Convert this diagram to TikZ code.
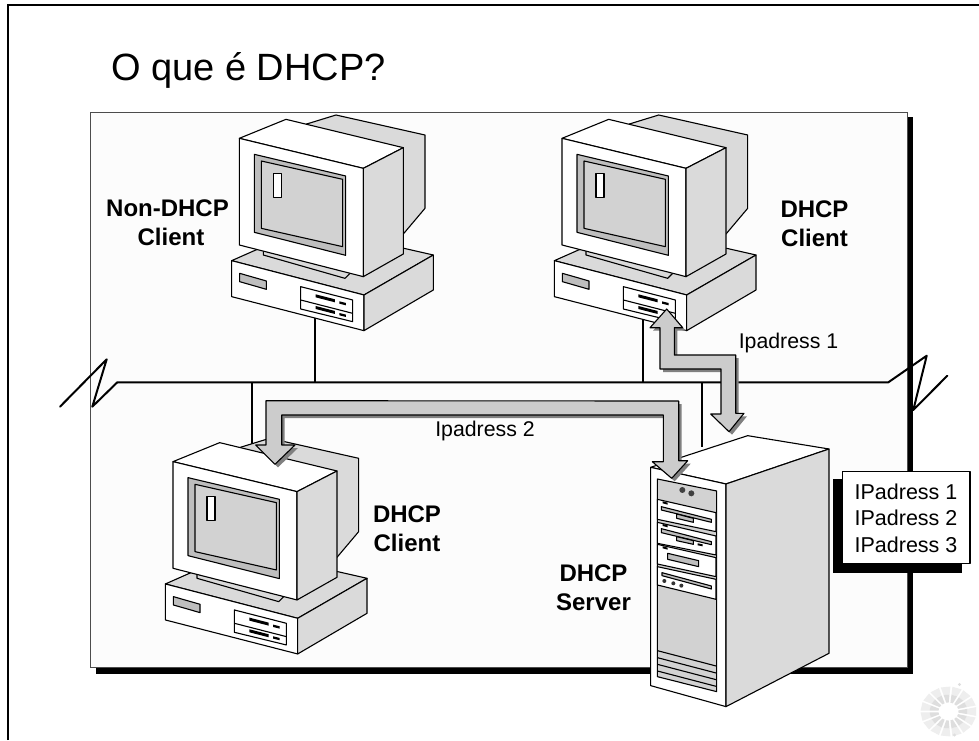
\documentclass[tikz,border=0pt]{standalone}
\usepackage{fontspec}
\setmainfont{Liberation Sans}
\definecolor{panelfill}{HTML}{FCFCFC}
\definecolor{sidegray}{HTML}{DADADA}
\definecolor{bezelgray}{HTML}{BEBEBE}
\definecolor{screengray}{HTML}{D2D2D2}
\definecolor{arrowgray}{HTML}{CCCCCC}
\definecolor{shadowgray}{HTML}{808080}
\definecolor{logogray}{HTML}{DEDEDE}
\definecolor{logolight}{HTML}{EEEEEE}
\tikzset{
  outline/.style={draw=black,line width=1.1pt,line join=round},
  lite/.style={outline,fill=white},
  side/.style={outline,fill=sidegray},
  bar/.style={fill=black,draw=none},
  wire/.style={draw=black,line width=2pt},
  wireround/.style={draw=black,line width=2pt,line join=round,line cap=round},
  bigarrow/.style={outline,fill=arrowgray},
  arrowshadow/.style={fill=shadowgray,draw=none},
  boldlabel/.style={font=\fontsize{24}{29}\selectfont\bfseries,align=center,inner sep=0pt},
  plainlabel/.style={font=\fontsize{21.3}{25}\selectfont,inner sep=0pt},
  iplist/.style={font=\fontsize{21.5}{26.6}\selectfont,align=center,inner sep=0pt}
}
\newcommand{\drawcomputer}[2]{%
\begin{scope}[shift={(#1,#2)},x=0.3333pt,y=-0.3333pt]
  % base
  \path[side] (95,482) -- (190,440) -- (612,445) -- (700,465) -- (492,585) -- cycle;
  \path[lite] (95,482) -- (492,585) -- (492,692) -- (95,590) -- cycle;
  \path[side] (492,585) -- (700,465) -- (700,570) -- (492,692) -- cycle;
  \path[outline,fill=bezelgray] (119,520) -- (199,543) -- (199,568) -- (119,545) -- cycle;
  \path[lite] (302,560) -- (458,600) -- (458,665) -- (302,627) -- cycle;
  \path[outline] (302,600) -- (458,640);
  \path[bar] (347,583) -- (405,598) -- (405,607) -- (347,592) -- cycle;
  \path[bar] (418,604) -- (438,609) -- (438,616) -- (418,611) -- cycle;
  \path[bar] (347,618) -- (405,633) -- (405,642) -- (347,627) -- cycle;
  \path[bar] (418,639) -- (438,644) -- (438,651) -- (418,646) -- cycle;
  % stand
  \path[outline,fill=sidegray] (190,452) -- (190,465) -- (435,535) -- (452,518) -- cycle;
  % housing
  \path[side] (320,72) -- (408,45) -- (675,105) -- (675,325) -- (610,402) -- (500,300) -- cycle;
  % monitor
  \path[lite] (118,115) -- (258,58) -- (610,143) -- (490,205) -- cycle;
  \path[lite] (118,115) -- (490,205) -- (490,530) -- (118,435) -- cycle;
  \path[side] (490,205) -- (610,143) -- (610,462) -- (490,530) -- cycle;
  \path[outline,fill=bezelgray] (163,163) -- (437,228) -- (437,466) -- (163,397) -- cycle;
  \path[outline,fill=screengray] (184,183) -- (428,238) -- (428,440) -- (184,385) -- cycle;
  \path[lite] (220,220) rectangle (244,292);
\end{scope}}
\begin{document}
\begin{tikzpicture}[x=1pt,y=-1pt]
\useasboundingbox (0,0) rectangle (979,740);
\fill[white] (0,0) rectangle (979,740);
% page frame
\draw[line width=2pt] (8,740) -- (8,5) -- (979,5);
% title
\node[anchor=base west,inner sep=0pt,font=\fontsize{38}{44}\selectfont] (title) at (111,80.7) {O que é DHCP?};
% panel
\fill[black] (96,117) rectangle (913,673.5);
\path[fill=panelfill,draw=black!70,line width=1pt] (90.3,112) rectangle (907.3,667.5);
% network
\coordinate (busL) at (117.3,382.3);
\coordinate (busR) at (888.3,382.3);
\coordinate (port1) at (315.3,318);
\coordinate (port2) at (642.7,320);
\coordinate (port3) at (252,445);
\coordinate (port4) at (702.3,446.7);
\draw[wireround] (60,406.7) -- (106.7,359.3) -- (92.3,406.7) -- (busL) -- (busR) -- (926.7,355.7) -- (913.3,410) -- (947.3,375.7);
\draw[wire] (port1) -- (port1 |- busL);
\draw[wire] (port2) -- (port2 |- busL);
\draw[wire] (port3) -- (port3 |- busL);
\draw[wire] (port4) -- (port4 |- busL);
% computers
\drawcomputer{200}{100}
\drawcomputer{522.7}{100}
\drawcomputer{133.7}{423.3}
% server
\begin{scope}[shift={(620,290)},x=0.3333pt,y=-0.3333pt]
  \path[lite] (92,532) -- (383,437) -- (627,477) -- (318,582) -- cycle;
  \path[lite] (92,532) -- (318,582) -- (318,1250) -- (92,1187) -- cycle;
  \path[side] (318,582) -- (627,477) -- (627,1090) -- (318,1250) -- cycle;
  \path[outline,fill=screengray] (112,567) -- (290,603) -- (290,1205) -- (112,1160) -- cycle;
  \fill[black!75] (187,600) circle (9);
  \fill[black!75] (214,610) circle (9);
  % bay 1
  \path[lite] (112,628) -- (288,668) -- (288,725) -- (112,688) -- cycle;
  \path[outline,fill=bezelgray] (124,650) -- (274,688) -- (274,697) -- (124,660) -- cycle;
  \path[outline,fill=bezelgray] (170,672) -- (220,685) -- (220,697) -- (170,685) -- cycle;
  \path[bar] (128,634) -- (143,638) -- (143,644) -- (128,640) -- cycle;
  % bay 2
  \path[lite] (112,697) -- (288,738) -- (288,795) -- (112,760) -- cycle;
  \path[outline,fill=bezelgray] (124,716) -- (274,755) -- (274,764) -- (124,728) -- cycle;
  \path[outline,fill=bezelgray] (170,740) -- (220,752) -- (220,763) -- (170,752) -- cycle;
  \path[bar] (128,702) -- (143,706) -- (143,712) -- (128,708) -- cycle;
  \path[bar] (233,760) -- (248,763) -- (248,769) -- (233,766) -- cycle;
  % bay 3
  \path[lite] (112,763) -- (288,803) -- (288,860) -- (112,822) -- cycle;
  \path[outline,fill=bezelgray] (143,790) -- (236,812) -- (236,830) -- (143,808) -- cycle;
  \path[bar] (128,769) -- (143,773) -- (143,779) -- (128,775) -- cycle;
  % bay 4
  \path[lite] (112,830) -- (288,868) -- (288,928) -- (112,885) -- cycle;
  \path[outline,fill=bezelgray] (126,848) -- (274,888) -- (274,897) -- (126,857) -- cycle;
  \fill[black!80] (133,873) circle (6);
  \fill[black!80] (160,880) circle (6);
  \fill[black!80] (184,887) circle (6);
  % vents
  \foreach \yy in {1082,1103,1123,1143} \draw[outline] (112,\yy) -- (288,\yy+46);
\end{scope}
% arrow 1
\begin{scope}[shift={(3,3)}]
\path[arrowshadow] (666.7,309) -- (682.7,327.7) -- (674.3,327.7) -- (674.3,355) -- (735.7,355) -- (735.7,413.3) -- (744,413.3) -- (729,431.7) -- (710.7,414) -- (721,414) -- (721,369) -- (660,369) -- (660,327.7) -- (650,327.7) -- cycle;
\end{scope}
\path[bigarrow] (666.7,309) -- (682.7,327.7) -- (674.3,327.7) -- (674.3,355) -- (735.7,355) -- (735.7,413.3) -- (744,413.3) -- (729,431.7) -- (710.7,414) -- (721,414) -- (721,369) -- (660,369) -- (660,327.7) -- (650,327.7) -- cycle;
% arrow 2
\begin{scope}[shift={(3,3)}]
\path[arrowshadow] (275,464.3) -- (295,445) -- (281.7,445) -- (281.7,415) -- (663.3,415) -- (663.3,461.7) -- (652.3,461.7) -- (671.7,478.3) -- (687.7,460.7) -- (678.7,460.7) -- (678.7,401) -- (266,400.7) -- (266,445) -- (255.7,445) -- cycle;
\end{scope}
\path[bigarrow] (275,464.3) -- (295,445) -- (281.7,445) -- (281.7,415) -- (663.3,415) -- (663.3,461.7) -- (652.3,461.7) -- (671.7,478.3) -- (687.7,460.7) -- (678.7,460.7) -- (678.7,401) -- (266,400.7) -- (266,445) -- (255.7,445) -- cycle;
% labels
\node[boldlabel] (lab1) at (167.5,223.2) {Non-DHCP\\\hspace*{7pt}Client};
\node[boldlabel] (lab2) at (814.5,224.2) {DHCP\\Client};
\node[boldlabel] (lab3) at (407,528.6) {DHCP\\Client};
\node[boldlabel] (lab4) at (593.5,587.6) {DHCP\\Server};
\node[plainlabel] (ip1) at (788.5,343) {Ipadress 1};
\node[plainlabel] (ip2) at (485,431) {Ipadress 2};
% list box
\fill[black] (833.3,479.3) rectangle (962,572.7);
\path[lite,line width=1.5pt] (842.3,471.7) rectangle (970,563.3);
\node[iplist] (list) at (906,518.3) {IPadress 1\\IPadress 2\\IPadress 3};
% logo
\begin{scope}[shift={(948.5,711.5)}]
  \foreach \a in {0,24,...,336} {
    \fill[logolight] ({\a-9}:19 and 17) -- ({\a-10}:28 and 25) -- ({\a+10}:28 and 25) -- ({\a+9}:19 and 17) -- cycle;
    \fill[logogray] ({\a-7}:10 and 9) -- ({\a-9}:19 and 17) -- ({\a+9}:19 and 17) -- ({\a+7}:10 and 9) -- cycle;
  }
  \fill[logogray] (11,-27) circle (1.6);
  \fill[logogray] (6,23.5) circle (1.6);
\end{scope}
\end{tikzpicture}
\end{document}
